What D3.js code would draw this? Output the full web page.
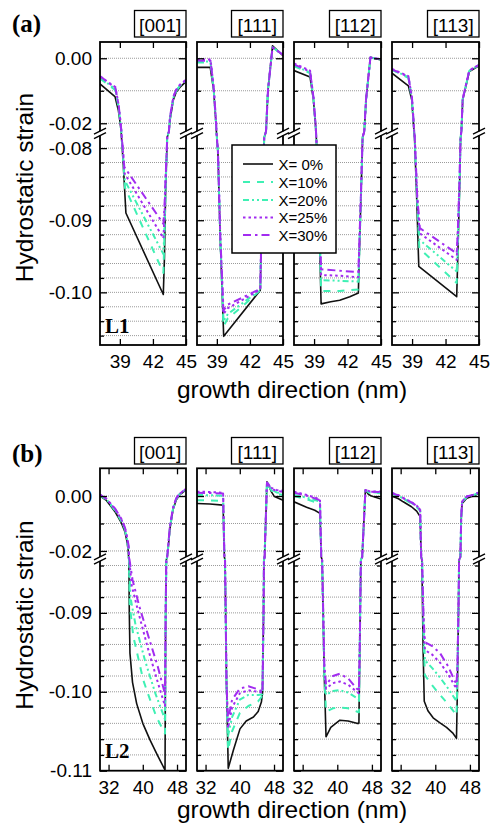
<!DOCTYPE html>
<html>
<head>
<meta charset="utf-8">
<script src="https://cdn.jsdelivr.net/npm/d3@7"></script>
<style>
  body { margin: 0; background: #fff; }
  svg text { font-family: "Liberation Sans", Arial, sans-serif; fill: #000; }
</style>
</head>
<body>
<svg id="chart" width="494" height="833"></svg>
<script>
// ---------------- categories and axis labels ----------------
const directions   = ["[001]", "[111]", "[112]", "[113]"];
const compositions = ["X= 0%", "X=10%", "X=20%", "X=25%", "X=30%"];
const wellLabels   = ["L1", "L2"];
const panelLetters = ["(a)", "(b)"];
const yTitle = "Hydrostatic strain";
const xTitle = "growth direction (nm)";

const xDomainL1 = [37.2, 45];
const xTicksL1  = [39, 42, 45];
const xDomainL2 = [30, 50.1];
const xTicksL2  = [32, 40, 48];

// broken strain axis: upper window and lower window
const yUpperL1 = [0.005, -0.0225];
const yLowerL1 = [-0.0781, -0.1073];
const yUpperL2 = [0.0101, -0.0222];
const yLowerL2 = [-0.0833, -0.110];
const yLabelsL1 = [0.00, -0.02, -0.08, -0.09, -0.10];
const yLabelsL2 = [0.00, -0.02, -0.09, -0.10, -0.11];

// ---------------- strain profiles, [position nm, strain], order X=0,10,20,25,30% ----------------
const L1_001 = [
  [[37.2,-0.0079],[38.56,-0.0118],[38.86,-0.0159],[39.05,-0.0205],[39.12,-0.0225],[39.15,-0.0785],[39.3,-0.0820],[39.55,-0.0890],[42.94,-0.1003],[43.05,-0.0950],[43.15,-0.0860],[43.3,-0.0785],[43.45,-0.0225],[43.55,-0.0190],[43.85,-0.0128],[44.1,-0.0105],[44.46,-0.0089],[45,-0.0072]],
  [[37.2,-0.0062],[38.6,-0.0098],[38.88,-0.0150],[39.07,-0.0205],[39.13,-0.0225],[39.16,-0.0785],[39.3,-0.0815],[39.47,-0.0855],[42.95,-0.0973],[43.05,-0.0920],[43.15,-0.0855],[43.3,-0.0785],[43.45,-0.0225],[43.55,-0.0186],[43.85,-0.0124],[44.1,-0.0101],[44.46,-0.0085],[45,-0.0069]],
  [[37.2,-0.0060],[38.6,-0.0095],[38.88,-0.0148],[39.07,-0.0204],[39.13,-0.0225],[39.16,-0.0785],[39.3,-0.0812],[39.45,-0.0845],[42.95,-0.0947],[43.05,-0.0910],[43.15,-0.0850],[43.3,-0.0785],[43.45,-0.0225],[43.55,-0.0184],[43.85,-0.0122],[44.1,-0.0100],[44.46,-0.0084],[45,-0.0068]],
  [[37.2,-0.0056],[38.6,-0.0089],[38.9,-0.0146],[39.08,-0.0203],[39.14,-0.0225],[39.17,-0.0785],[39.3,-0.0808],[39.42,-0.0835],[42.95,-0.0925],[43.05,-0.0895],[43.15,-0.0845],[43.3,-0.0785],[43.45,-0.0225],[43.55,-0.0182],[43.85,-0.0120],[44.1,-0.0098],[44.46,-0.0082],[45,-0.0067]],
  [[37.2,-0.0055],[38.6,-0.0092],[38.9,-0.0147],[39.08,-0.0203],[39.14,-0.0225],[39.17,-0.0785],[39.3,-0.0805],[39.4,-0.0826],[42.95,-0.0905],[43.05,-0.0880],[43.15,-0.0840],[43.3,-0.0785],[43.45,-0.0225],[43.55,-0.0180],[43.85,-0.0119],[44.1,-0.0097],[44.46,-0.0081],[45,-0.0066]]
];
const L1_111 = [
  [[37.2,-0.0028],[38.4,-0.0028],[38.71,-0.0098],[38.92,-0.0200],[38.96,-0.0225],[39.0,-0.0785],[39.1,-0.0807],[39.31,-0.0927],[39.62,-0.1061],[42.94,-0.0997],[43.0,-0.0950],[43.15,-0.0850],[43.3,-0.0785],[43.46,-0.0225],[43.64,-0.0098],[44.05,0.0038],[45,0.0008]],
  [[37.2,-0.0013],[38.42,-0.0013],[38.71,-0.0095],[38.92,-0.0198],[38.96,-0.0225],[39.0,-0.0785],[39.1,-0.0805],[39.31,-0.0925],[39.6,-0.1047],[40.0,-0.1036],[41.5,-0.1017],[42.94,-0.0997],[43.0,-0.0950],[43.15,-0.0850],[43.3,-0.0785],[43.46,-0.0225],[43.64,-0.0097],[44.05,0.0034],[45,0.0010]],
  [[37.2,-0.0010],[38.42,-0.0010],[38.71,-0.0094],[38.92,-0.0198],[38.96,-0.0225],[39.0,-0.0785],[39.1,-0.0805],[39.31,-0.0924],[39.6,-0.1040],[40.0,-0.1030],[41.5,-0.1013],[42.94,-0.0997],[43.0,-0.0950],[43.15,-0.0850],[43.3,-0.0785],[43.46,-0.0225],[43.64,-0.0097],[44.05,0.0034],[45,0.0010]],
  [[37.2,-0.0003],[38.43,-0.0004],[38.72,-0.0093],[38.93,-0.0197],[38.97,-0.0225],[39.0,-0.0785],[39.1,-0.0804],[39.31,-0.0922],[39.6,-0.1030],[40.0,-0.1022],[41.5,-0.1009],[42.94,-0.0996],[43.0,-0.0950],[43.15,-0.0850],[43.3,-0.0785],[43.46,-0.0225],[43.64,-0.0096],[44.05,0.0033],[45,0.0011]],
  [[37.2,-0.0007],[38.43,-0.0008],[38.72,-0.0094],[38.93,-0.0197],[38.97,-0.0225],[39.0,-0.0785],[39.1,-0.0804],[39.31,-0.0921],[39.6,-0.1025],[40.0,-0.1017],[41.5,-0.1006],[42.94,-0.0995],[43.0,-0.0950],[43.15,-0.0850],[43.3,-0.0785],[43.46,-0.0225],[43.64,-0.0096],[44.05,0.0033],[45,0.0011]]
];
const L1_112 = [
  [[37.2,-0.0038],[38.64,-0.0058],[38.94,-0.0128],[39.12,-0.0200],[39.17,-0.0225],[39.2,-0.0785],[39.45,-0.0900],[39.63,-0.1016],[40.5,-0.1013],[41.3,-0.1011],[42.2,-0.1006],[42.97,-0.1001],[43.05,-0.0950],[43.2,-0.0870],[43.35,-0.0785],[43.5,-0.0225],[43.66,-0.0128],[44.05,0.0003],[45,-0.0005]],
  [[37.2,-0.0024],[38.64,-0.0046],[38.94,-0.0124],[39.12,-0.0198],[39.17,-0.0225],[39.2,-0.0785],[39.45,-0.0895],[39.63,-0.0998],[41.3,-0.0998],[42.97,-0.0996],[43.05,-0.0950],[43.2,-0.0870],[43.35,-0.0785],[43.5,-0.0225],[43.66,-0.0127],[44.05,0.0002],[45,-0.0004]],
  [[37.2,-0.0022],[38.64,-0.0044],[38.94,-0.0123],[39.12,-0.0198],[39.17,-0.0225],[39.2,-0.0785],[39.45,-0.0890],[39.63,-0.0983],[41.3,-0.0984],[42.97,-0.0985],[43.05,-0.0945],[43.2,-0.0868],[43.35,-0.0785],[43.5,-0.0225],[43.66,-0.0127],[44.05,0.0002],[45,-0.0004]],
  [[37.2,-0.0016],[38.64,-0.0038],[38.95,-0.0121],[39.12,-0.0197],[39.17,-0.0225],[39.2,-0.0785],[39.45,-0.0885],[39.63,-0.0976],[41.3,-0.0977],[42.97,-0.0979],[43.05,-0.0940],[43.2,-0.0866],[43.35,-0.0785],[43.5,-0.0225],[43.66,-0.0126],[44.05,0.0002],[45,-0.0003]],
  [[37.2,-0.0019],[38.64,-0.0041],[38.95,-0.0122],[39.12,-0.0197],[39.17,-0.0225],[39.2,-0.0785],[39.45,-0.0880],[39.63,-0.0968],[41.3,-0.0970],[42.97,-0.0972],[43.05,-0.0935],[43.2,-0.0864],[43.35,-0.0785],[43.5,-0.0225],[43.66,-0.0126],[44.05,0.0002],[45,-0.0003]]
];
const L1_113 = [
  [[37.2,-0.0046],[38.67,-0.0085],[38.97,-0.0128],[39.12,-0.0200],[39.17,-0.0225],[39.22,-0.0785],[39.42,-0.0872],[39.6,-0.0964],[43.0,-0.1006],[43.1,-0.0950],[43.25,-0.0860],[43.35,-0.0785],[43.42,-0.0225],[43.54,-0.0128],[44.13,-0.0041],[45,-0.0023]],
  [[37.2,-0.0036],[38.67,-0.0060],[38.98,-0.0124],[39.13,-0.0198],[39.18,-0.0225],[39.23,-0.0785],[39.45,-0.0872],[39.65,-0.0939],[43.0,-0.0987],[43.1,-0.0940],[43.25,-0.0855],[43.35,-0.0785],[43.42,-0.0225],[43.54,-0.0126],[44.13,-0.0039],[45,-0.0021]],
  [[37.2,-0.0035],[38.67,-0.0058],[38.98,-0.0123],[39.13,-0.0198],[39.18,-0.0225],[39.23,-0.0785],[39.45,-0.0870],[39.66,-0.0927],[43.0,-0.0971],[43.1,-0.0930],[43.25,-0.0850],[43.35,-0.0785],[43.42,-0.0225],[43.54,-0.0126],[44.13,-0.0039],[45,-0.0021]],
  [[37.2,-0.0033],[38.67,-0.0055],[38.99,-0.0122],[39.14,-0.0197],[39.19,-0.0225],[39.24,-0.0785],[39.46,-0.0868],[39.68,-0.0918],[43.0,-0.0955],[43.1,-0.0920],[43.25,-0.0848],[43.35,-0.0785],[43.42,-0.0225],[43.54,-0.0125],[44.13,-0.0038],[45,-0.0020]],
  [[37.2,-0.0034],[38.67,-0.0057],[38.99,-0.0122],[39.14,-0.0197],[39.19,-0.0225],[39.24,-0.0785],[39.46,-0.0866],[39.7,-0.0911],[43.0,-0.0946],[43.1,-0.0915],[43.25,-0.0845],[43.35,-0.0785],[43.42,-0.0225],[43.54,-0.0125],[44.13,-0.0038],[45,-0.0020]]
];
const L2_001 = [
  [[30,0.0000],[31.5,-0.0016],[33.5,-0.0057],[35.0,-0.0098],[35.84,-0.0131],[36.3,-0.0165],[36.6,-0.0198],[36.68,-0.0222],[36.75,-0.0833],[36.85,-0.0900],[37.0,-0.0951],[37.6,-0.0988],[38.57,-0.1015],[40.0,-0.1040],[41.68,-0.1061],[43.3,-0.1079],[44.8,-0.1095],[45.2,-0.1099],[45.35,-0.0900],[45.5,-0.0833],[45.7,-0.0222],[45.9,-0.0197],[46.3,-0.0124],[47.05,-0.0051],[47.8,-0.0015],[48.6,0.0004],[50.1,0.0022]],
  [[30,0.0002],[31.5,-0.0013],[33.5,-0.0052],[35.0,-0.0092],[35.84,-0.0124],[36.3,-0.0158],[36.6,-0.0190],[36.7,-0.0222],[36.77,-0.0833],[36.95,-0.0890],[37.8,-0.0930],[40.1,-0.0985],[41.7,-0.1010],[43.2,-0.1032],[45.2,-0.1053],[45.35,-0.0900],[45.5,-0.0833],[45.7,-0.0222],[45.9,-0.0193],[46.3,-0.0120],[47.05,-0.0048],[47.8,-0.0012],[48.6,0.0006],[50.1,0.0024]],
  [[30,0.0003],[31.5,-0.0012],[33.5,-0.0050],[35.0,-0.0089],[35.84,-0.0121],[36.3,-0.0155],[36.62,-0.0187],[36.72,-0.0222],[36.8,-0.0833],[37.1,-0.0880],[38.3,-0.0915],[40.5,-0.0960],[43.0,-0.1003],[45.2,-0.1035],[45.35,-0.0900],[45.5,-0.0833],[45.7,-0.0222],[45.9,-0.0192],[46.3,-0.0118],[47.05,-0.0047],[47.8,-0.0011],[48.6,0.0007],[50.1,0.0025]],
  [[30,0.0005],[31.5,-0.0010],[33.5,-0.0047],[35.0,-0.0085],[35.84,-0.0117],[36.3,-0.0150],[36.65,-0.0182],[36.76,-0.0222],[36.85,-0.0833],[37.4,-0.0865],[39.0,-0.0900],[41.2,-0.0945],[43.5,-0.0988],[45.2,-0.1018],[45.35,-0.0900],[45.5,-0.0833],[45.7,-0.0222],[45.9,-0.0190],[46.3,-0.0116],[47.05,-0.0045],[47.8,-0.0009],[48.6,0.0008],[50.1,0.0026]],
  [[30,0.0005],[31.5,-0.0010],[33.5,-0.0045],[35.0,-0.0083],[35.84,-0.0115],[36.3,-0.0147],[36.68,-0.0180],[36.8,-0.0222],[36.9,-0.0833],[37.6,-0.0858],[39.2,-0.0892],[41.5,-0.0933],[43.5,-0.0968],[45.2,-0.1003],[45.35,-0.0900],[45.5,-0.0833],[45.7,-0.0222],[45.9,-0.0189],[46.3,-0.0115],[47.05,-0.0044],[47.8,-0.0008],[48.6,0.0009],[50.1,0.0026]]
];
const L2_111 = [
  [[30,-0.0027],[33,-0.0029],[36.1,-0.0033],[36.4,-0.0222],[36.55,-0.0833],[36.9,-0.0990],[37.3,-0.1097],[38.5,-0.1074],[40.05,-0.1047],[41.5,-0.1037],[43.2,-0.1032],[44.3,-0.1025],[45.05,-0.1013],[45.3,-0.1002],[45.55,-0.0900],[45.65,-0.0833],[45.8,-0.0222],[46.35,0.0052],[47.4,0.0015],[48.1,-0.0002],[50.1,-0.0015]],
  [[30,-0.0015],[33,-0.0016],[36.1,-0.0018],[36.4,-0.0222],[36.55,-0.0833],[36.9,-0.0990],[37.25,-0.1074],[38.2,-0.1050],[40.0,-0.1027],[42.0,-0.1018],[44.3,-0.1012],[45.3,-0.1005],[45.55,-0.0900],[45.65,-0.0833],[45.8,-0.0222],[46.35,0.0048],[47.4,0.0020],[48.6,0.0008],[50.1,0.0004]],
  [[30,0.0004],[33,0.0003],[36.1,0.0001],[36.4,-0.0222],[36.55,-0.0833],[36.9,-0.0990],[37.25,-0.1056],[38.2,-0.1032],[40.0,-0.1010],[42.0,-0.1004],[44.3,-0.1004],[45.3,-0.1003],[45.55,-0.0900],[45.65,-0.0833],[45.8,-0.0222],[46.35,0.0049],[47.4,0.0024],[48.6,0.0013],[50.1,0.0010]],
  [[30,0.0016],[33,0.0015],[36.1,0.0012],[36.4,-0.0222],[36.55,-0.0833],[36.9,-0.0990],[37.25,-0.1046],[38.2,-0.1020],[40.0,-0.1002],[42.0,-0.0998],[44.3,-0.1000],[45.3,-0.1001],[45.55,-0.0900],[45.65,-0.0833],[45.8,-0.0222],[46.35,0.0050],[47.4,0.0030],[48.6,0.0022],[50.1,0.0020]],
  [[30,0.0012],[33,0.0011],[36.1,0.0009],[36.4,-0.0222],[36.55,-0.0833],[36.9,-0.0990],[37.25,-0.1036],[38.2,-0.1010],[40.0,-0.0996],[42.0,-0.0993],[44.3,-0.0997],[45.3,-0.1000],[45.55,-0.0900],[45.65,-0.0833],[45.8,-0.0222],[46.35,0.0049],[47.4,0.0027],[48.6,0.0018],[50.1,0.0016]]
];
const L2_112 = [
  [[30,-0.0021],[32.9,-0.0041],[34.8,-0.0052],[36.0,-0.0063],[36.3,-0.0222],[36.5,-0.0833],[37.0,-0.0980],[37.4,-0.1057],[38.5,-0.1045],[40.6,-0.1036],[42.5,-0.1037],[44.5,-0.1040],[45.0,-0.1040],[45.2,-0.0940],[45.45,-0.0833],[45.75,-0.0222],[46.5,0.0022],[47.2,0.0006],[47.9,0.0000],[50.1,-0.0011]],
  [[30,0.0000],[33,-0.0012],[36.0,-0.0028],[36.3,-0.0222],[36.5,-0.0833],[37.0,-0.0980],[37.4,-0.1025],[39.0,-0.1021],[40.6,-0.1020],[42.5,-0.1021],[44.5,-0.1025],[45.0,-0.1026],[45.2,-0.0940],[45.45,-0.0833],[45.75,-0.0222],[46.5,0.0020],[47.5,0.0012],[50.1,0.0010]],
  [[30,0.0004],[33,-0.0006],[36.0,-0.0020],[36.3,-0.0222],[36.5,-0.0833],[37.0,-0.0975],[37.4,-0.1004],[39.0,-0.0999],[40.6,-0.0998],[42.5,-0.1001],[44.5,-0.1008],[45.0,-0.1010],[45.2,-0.0940],[45.45,-0.0833],[45.75,-0.0222],[46.5,0.0021],[47.5,0.0014],[50.1,0.0012]],
  [[30,0.0016],[33,0.0004],[36.0,-0.0012],[36.3,-0.0222],[36.5,-0.0833],[37.0,-0.0970],[37.4,-0.0996],[39.0,-0.0989],[40.6,-0.0987],[42.5,-0.0991],[44.5,-0.1000],[45.0,-0.1002],[45.2,-0.0940],[45.45,-0.0833],[45.75,-0.0222],[46.5,0.0023],[47.5,0.0017],[50.1,0.0016]],
  [[30,0.0012],[33,0.0001],[36.0,-0.0015],[36.3,-0.0222],[36.5,-0.0833],[37.0,-0.0965],[37.4,-0.0991],[39.0,-0.0980],[40.6,-0.0977],[42.5,-0.0983],[44.5,-0.0996],[45.0,-0.0998],[45.2,-0.0940],[45.45,-0.0833],[45.75,-0.0222],[46.5,0.0022],[47.5,0.0016],[50.1,0.0014]]
];
const L2_113 = [
  [[30,0.0000],[31.5,-0.0010],[32.6,-0.0021],[34.5,-0.0039],[35.7,-0.0055],[36.5,-0.0075],[36.75,-0.0222],[36.9,-0.0833],[37.2,-0.0950],[37.45,-0.1012],[38.3,-0.1024],[39.5,-0.1033],[41.0,-0.1039],[42.6,-0.1045],[44.0,-0.1052],[44.9,-0.1059],[45.1,-0.1000],[45.35,-0.0900],[45.5,-0.0833],[45.8,-0.0222],[46.0,-0.0080],[46.2,-0.0027],[47.25,-0.0008],[48.8,0.0000],[50.1,0.0010]],
  [[30,0.0008],[31.5,0.0000],[32.6,-0.0010],[34.5,-0.0027],[35.7,-0.0040],[36.5,-0.0054],[36.75,-0.0222],[36.95,-0.0833],[37.3,-0.0930],[37.6,-0.0979],[39.3,-0.0992],[41.1,-0.1004],[43.0,-0.1016],[44.55,-0.1027],[44.9,-0.1030],[45.1,-0.0990],[45.35,-0.0900],[45.5,-0.0833],[45.8,-0.0222],[46.0,-0.0075],[46.2,-0.0022],[47.25,-0.0004],[48.8,0.0003],[50.1,0.0012]],
  [[30,0.0009],[31.5,0.0001],[32.6,-0.0009],[34.5,-0.0025],[35.7,-0.0038],[36.5,-0.0052],[36.75,-0.0222],[36.95,-0.0833],[37.3,-0.0920],[37.6,-0.0960],[39.3,-0.0970],[41.1,-0.0982],[43.0,-0.0996],[44.55,-0.1009],[44.9,-0.1012],[45.1,-0.0980],[45.35,-0.0900],[45.5,-0.0833],[45.8,-0.0222],[46.0,-0.0074],[46.2,-0.0021],[47.25,-0.0003],[48.8,0.0004],[50.1,0.0012]],
  [[30,0.0011],[31.5,0.0003],[32.6,-0.0007],[34.5,-0.0022],[35.7,-0.0035],[36.5,-0.0049],[36.75,-0.0222],[36.95,-0.0833],[37.3,-0.0915],[37.6,-0.0947],[39.3,-0.0953],[41.1,-0.0963],[43.0,-0.0978],[44.55,-0.0993],[44.9,-0.0996],[45.1,-0.0975],[45.35,-0.0900],[45.5,-0.0833],[45.8,-0.0222],[46.0,-0.0073],[46.2,-0.0020],[47.25,-0.0002],[48.8,0.0005],[50.1,0.0013]],
  [[30,0.0010],[31.5,0.0002],[32.6,-0.0008],[34.5,-0.0023],[35.7,-0.0036],[36.5,-0.0050],[36.75,-0.0222],[36.95,-0.0833],[37.25,-0.0900],[37.6,-0.0937],[39.3,-0.0942],[41.1,-0.0951],[43.0,-0.0968],[44.55,-0.0987],[44.9,-0.0990],[45.1,-0.0970],[45.35,-0.0900],[45.5,-0.0833],[45.8,-0.0222],[46.0,-0.0073],[46.2,-0.0020],[47.25,-0.0002],[48.8,0.0005],[50.1,0.0013]]
];

// ---------------- styles ----------------
const seriesStyle = [
  { color: "#111111", width: 1.6, dash: null },
  { color: "#3ff0b4", width: 2.0, dash: "7,7" },
  { color: "#3ff0b4", width: 2.0, dash: "6,3,2,3,2,3" },
  { color: "#a22cf0", width: 2.0, dash: "2.5,3" },
  { color: "#a22cf0", width: 2.0, dash: "8,4,2.5,4" }
];

// ---------------- layout ----------------
const frameLeft  = [100, 197, 294, 392];
const frameWidth = [86, 86, 87, 87];

const panels = [
  { letter: panelLetters[0], well: wellLabels[0], profiles: [L1_001, L1_111, L1_112, L1_113],
    xDomain: xDomainL1, xTicks: xTicksL1, yUpper: yUpperL1, yLower: yLowerL1, yLabels: yLabelsL1,
    top: 42, bottom: 345, upperEnd: 131.4, lowerStart: 134.4,
    letterY: 31.5, boxY: 10.5, wellY: 333, xTickY: 368.3, xTitleY: 398.3, yTitleY: 187.5 },
  { letter: panelLetters[1], well: wellLabels[1], profiles: [L2_001, L2_111, L2_112, L2_113],
    xDomain: xDomainL2, xTicks: xTicksL2, yUpper: yUpperL2, yLower: yLowerL2, yLabels: yLabelsL2,
    top: 468.3, bottom: 770.7, upperEnd: 557, lowerStart: 560,
    letterY: 461.5, boxY: 437.5, wellY: 757.7, xTickY: 794, xTitleY: 818.3, yTitleY: 615 }
];

const svg = d3.select("#chart");
svg.append("rect").attr("width", 494).attr("height", 833).attr("fill", "#fff");
const defs = svg.append("defs");

const near = (a, b) => Math.abs(a - b) < 1e-6;

panels.forEach((p, pi) => {
  // piecewise scale for the broken strain axis
  const y = d3.scaleLinear()
    .domain([p.yUpper[0], p.yUpper[1], p.yLower[0], p.yLower[1]])
    .range([p.top, p.upperEnd, p.lowerStart, p.bottom]);

  const gridUpper = d3.range(0, p.yUpper[1] - 1e-9, -0.01).map(v => +v.toFixed(4));
  const lowStart = Math.floor(p.yLower[0] / 0.002 + 1e-9) * 0.002;
  const gridLower = d3.range(lowStart, p.yLower[1] - 1e-6, -0.002).map(v => +v.toFixed(4))
    .filter(v => v >= p.yLower[1] - 1e-6);
  const gridAll = gridUpper.concat(gridLower);
  const majorVals = gridAll.filter(v => p.yLabels.some(l => near(l, v)));
  const minorVals = gridAll.filter(v => !p.yLabels.some(l => near(l, v)));

  // panel letter
  svg.append("text").attr("x", 12).attr("y", p.letterY)
    .style("font-family", "'Liberation Serif', 'Times New Roman', serif")
    .style("font-weight", "bold").style("font-size", "25px").text(p.letter);

  // y title
  svg.append("text")
    .attr("transform", `translate(33,${p.yTitleY}) rotate(-90)`)
    .attr("text-anchor", "middle").style("font-size", "24.5px").text(yTitle);

  // x title
  svg.append("text").attr("x", 292).attr("y", p.xTitleY)
    .attr("text-anchor", "middle").style("font-size", "24.5px").text(xTitle);

  directions.forEach((dir, di) => {
    const fx = frameLeft[di], fw = frameWidth[di];
    const x = d3.scaleLinear().domain(p.xDomain).range([fx, fx + fw]);
    const g = svg.append("g");

    // gridlines
    g.selectAll("line.grid").data(gridAll.filter(v => !near(y(v), p.bottom))).enter()
      .append("line")
      .attr("x1", fx).attr("x2", fx + fw)
      .attr("y1", d => y(d)).attr("y2", d => y(d))
      .attr("stroke", "#9a9a9a").attr("stroke-width", 1)
      .attr("stroke-dasharray", "1,1");

    // strain profiles
    const clipId = `clip-${pi}-${di}`;
    defs.append("clipPath").attr("id", clipId)
      .append("rect").attr("x", fx).attr("y", p.top).attr("width", fw).attr("height", p.bottom - p.top);
    const line = d3.line().x(d => x(d[0])).y(d => y(d[1]));
    const lg = g.append("g").attr("clip-path", `url(#${clipId})`);
    p.profiles[di].forEach((series, si) => {
      const st = seriesStyle[si];
      lg.append("path").datum(series)
        .attr("d", line)
        .attr("fill", "none")
        .attr("stroke", st.color)
        .attr("stroke-width", st.width)
        .attr("stroke-linejoin", "round")
        .attr("stroke-dasharray", st.dash);
    });

    // inward ticks on the four edges
    const tickAxis = (axisFn, scale, vals, len, tx, ty) => {
      const a = g.append("g").attr("transform", `translate(${tx},${ty})`)
        .call(axisFn(scale).tickValues(vals).tickSize(-len).tickFormat(""));
      a.select(".domain").remove();
      a.selectAll(".tick line").attr("stroke", "#000").attr("stroke-width", 1.3);
    };
    tickAxis(d3.axisLeft, y, majorVals, 7, fx, 0);
    tickAxis(d3.axisLeft, y, minorVals, 4, fx, 0);
    tickAxis(d3.axisRight, y, majorVals, 7, fx + fw, 0);
    tickAxis(d3.axisRight, y, minorVals, 4, fx + fw, 0);
    tickAxis(d3.axisBottom, x, p.xTicks, 6, 0, p.bottom);
    tickAxis(d3.axisTop, x, p.xTicks, 6, 0, p.top);

    // frame
    g.append("rect").attr("x", fx).attr("y", p.top).attr("width", fw).attr("height", p.bottom - p.top)
      .attr("fill", "none").attr("stroke", "#000").attr("stroke-width", 1.8);

    // axis break marks on both vertical edges
    const by = (p.upperEnd + p.lowerStart) / 2 + 0.5;
    [fx, fx + fw].forEach(ex => {
      g.append("rect").attr("x", ex - 2).attr("y", by - 2).attr("width", 4).attr("height", 4).attr("fill", "#fff");
      [-2.2, 2.2].forEach(off => {
        g.append("line")
          .attr("x1", ex - 6).attr("y1", by + off + 3)
          .attr("x2", ex + 6).attr("y2", by + off - 3)
          .attr("stroke", "#000").attr("stroke-width", 1.3);
      });
    });

    // x tick labels
    const xa = g.append("g").attr("transform", `translate(0,${p.xTickY})`)
      .call(d3.axisBottom(x).tickValues(p.xTicks).tickSize(0).tickPadding(0).tickFormat(d3.format("d")));
    xa.select(".domain").remove();
    xa.selectAll("text").attr("dy", null).attr("y", 0)
      .style("font-size", "19px").style("font-family", "'Liberation Sans', Arial, sans-serif").attr("fill", "#000");

    // y tick labels on the first frame
    if (di === 0) {
      const ya = g.append("g").attr("transform", `translate(${fx},0)`)
        .call(d3.axisLeft(y).tickValues(p.yLabels).tickSize(0).tickPadding(8).tickFormat(d => d.toFixed(2)));
      ya.select(".domain").remove();
      ya.selectAll("text").style("font-size", "19px")
        .style("font-family", "'Liberation Sans', Arial, sans-serif").attr("fill", "#000");

      g.append("text").attr("x", fx + 5).attr("y", p.wellY)
        .style("font-family", "'Liberation Serif', 'Times New Roman', serif")
        .style("font-weight", "bold").style("font-size", "21px").text(p.well);
    }

    // direction box
    const bw = 51.5, bh = 26.5, bx = fx + fw - bw;
    g.append("rect").attr("x", bx).attr("y", p.boxY).attr("width", bw).attr("height", bh)
      .attr("fill", "#fff").attr("stroke", "#000").attr("stroke-width", 1.3);
    g.append("text").attr("x", bx + bw / 2).attr("y", p.boxY + 21)
      .attr("text-anchor", "middle").style("font-size", "19px").text(dir);
  });
});

// legend inside the [111] frame of panel (a)
const legend = svg.append("g").attr("transform", "translate(232,145)");
legend.append("rect").attr("width", 104).attr("height", 108)
  .attr("fill", "#fff").attr("stroke", "#000").attr("stroke-width", 1.5);
const rowY = [19, 37, 55, 72.5, 90];
compositions.forEach((c, i) => {
  const st = seriesStyle[i];
  legend.append("line").attr("x1", 11).attr("x2", 41).attr("y1", rowY[i]).attr("y2", rowY[i])
    .attr("stroke", st.color).attr("stroke-width", st.width).attr("stroke-dasharray", st.dash);
  legend.append("text").attr("x", 46.5).attr("y", rowY[i] + 5.5)
    .style("font-size", "15px").text(c);
});
</script>
</body>
</html>
